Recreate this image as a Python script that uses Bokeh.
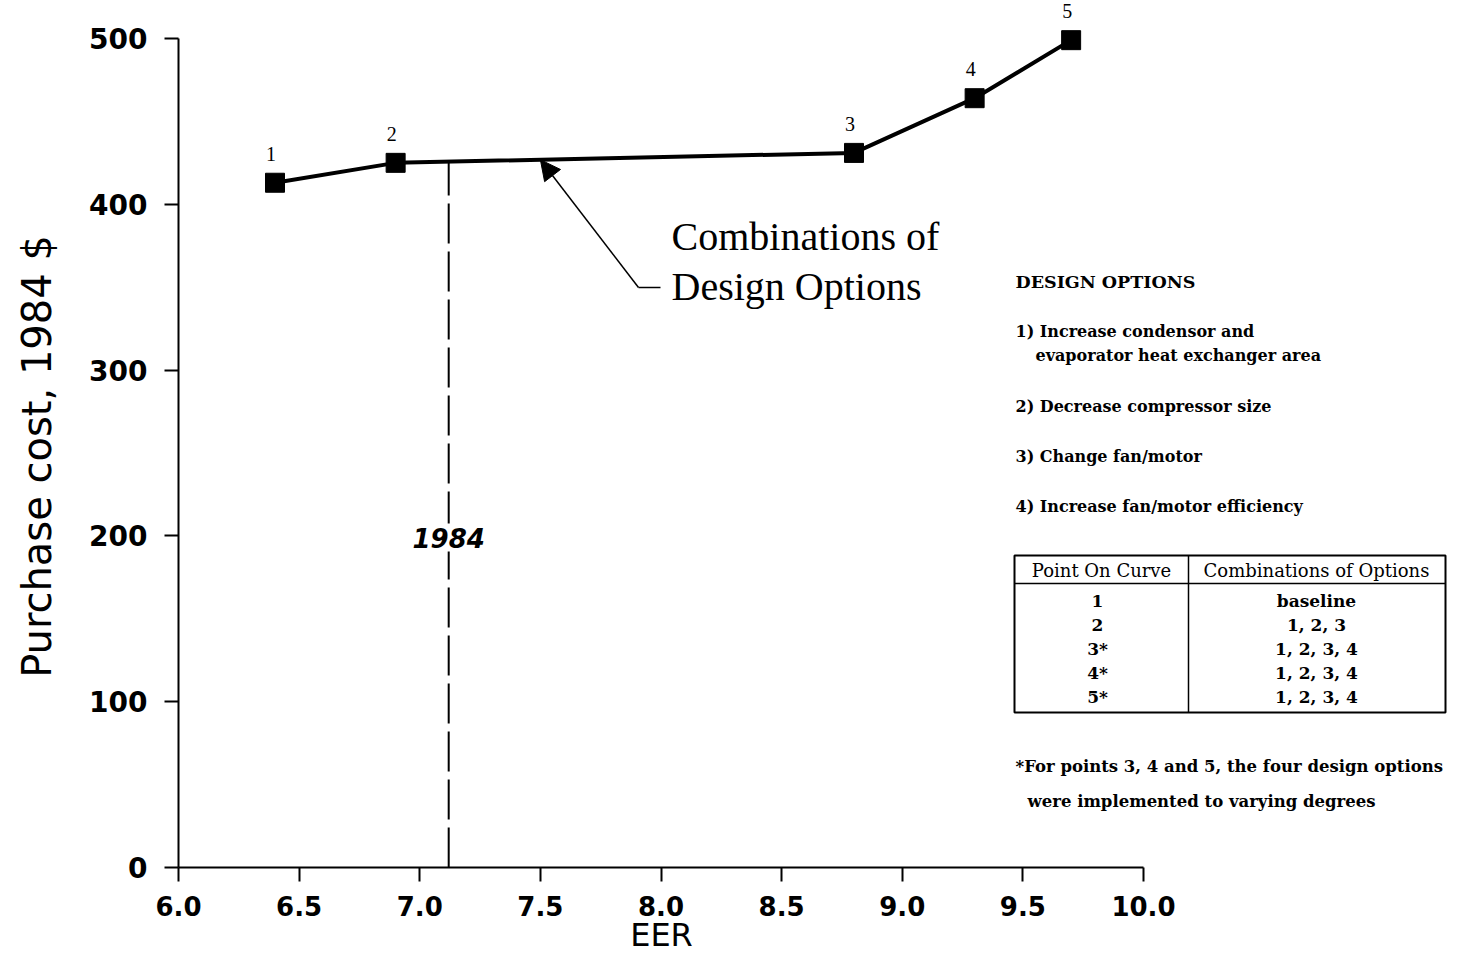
import math
from bokeh.plotting import figure
from bokeh.models import Range1d, FixedTicker, NumeralTickFormatter, Label, Arrow, NormalHead
from bokeh.core.properties import value
from bokeh.embed import file_html
from bokeh.resources import INLINE

# ---- data ----
eer = [6.4, 6.9, 8.8, 9.3, 9.7]
cost = [413, 425, 431, 464, 499]
point_labels = ["1", "2", "3", "4", "5"]
x_ticks = [6.0, 6.5, 7.0, 7.5, 8.0, 8.5, 9.0, 9.5, 10.0]
y_ticks = [0, 100, 200, 300, 400, 500]
year_eer = 7.12
year_label = "1984"
x_title = "EER"
y_title = "Purchase cost, 1984 $"

options_title = "DESIGN OPTIONS"
options_lines = ["1) Increase condensor and", "evaporator heat exchanger area",
                 "2) Decrease compressor size", "3) Change fan/motor",
                 "4) Increase fan/motor efficiency"]
table_header = ["Point On Curve", "Combinations of Options"]
table_points = ["1", "2", "3*", "4*", "5*"]
table_combos = ["baseline", "1, 2, 3", "1, 2, 3, 4", "1, 2, 3, 4", "1, 2, 3, 4"]
footnote = ["*For points 3, 4 and 5, the four design options",
            "were implemented to varying degrees"]
callout = ["Combinations of", "Design Options"]

# ---- layout helpers (canvas pixel -> data) ----
W, H = 1458, 955
XS = 241.25   # px per EER unit
YS = 1.658    # px per $
def X(px):
    return 6.0 + (px - 178) / XS
def Y(py):
    return (867 - py) / YS

p = figure(width=W, height=H, output_backend="svg", toolbar_location=None,
           x_range=Range1d(X(0), X(W)), y_range=Range1d(Y(H), Y(0)),
           min_border_left=0, min_border_right=0, min_border_top=0, min_border_bottom=0)
p.outline_line_color = None
p.grid.visible = False
p.background_fill_color = "white"

for ax in (p.xaxis[0], p.yaxis[0]):
    ax.axis_line_width = 2
    ax.axis_line_color = "black"
    ax.major_tick_line_width = 2
    ax.major_tick_line_color = "black"
    ax.major_tick_in = 0
    ax.major_tick_out = 14
    ax.minor_tick_line_color = None
    ax.major_label_text_font = "DejaVu Sans"
    ax.major_label_text_font_style = "bold"
    ax.major_label_text_color = "black"

p.xaxis[0].major_label_text_font_size = "26px"
p.yaxis[0].major_label_text_font_size = "28px"
p.xaxis[0].fixed_location = 0
p.yaxis[0].fixed_location = 6.0
p.xaxis[0].bounds = (6.0, 10.0)
p.yaxis[0].bounds = (0, 500)
p.xaxis[0].ticker = FixedTicker(ticks=x_ticks)
p.yaxis[0].ticker = FixedTicker(ticks=y_ticks)
p.xaxis[0].formatter = NumeralTickFormatter(format="0.0")
p.xaxis[0].major_label_standoff = 14
p.yaxis[0].major_label_standoff = 17

# axis titles
p.text([X(661)], [Y(934)], text=[x_title], text_align="center", text_baseline="middle",
       text_font=value("DejaVu Sans"), text_font_size="32px", text_color="black")
p.text([X(36)], [Y(456)], text=[y_title], angle=math.pi / 2, text_align="center",
       text_baseline="middle", text_font=value("DejaVu Sans"), text_font_size="40px",
       text_color="black")

# 1984 dashed line
p.segment(x0=[year_eer], y0=[0], x1=[year_eer],
          y1=[cost[1] + (cost[2] - cost[1]) * (year_eer - eer[1]) / (eer[2] - eer[1])],
          line_color="black", line_width=2, line_dash="40 8")
p.add_layout(Label(x=year_eer, y=Y(537), text=year_label, text_align="center",
                   text_baseline="middle", text_font="DejaVu Sans", text_font_style="bold italic",
                   text_font_size="26px", text_color="black",
                   background_fill_color="white", padding=4))

# curve
p.line(eer, cost, line_color="black", line_width=4)
p.scatter(eer, cost, marker="square", size=19, fill_color="black", line_color="black")
p.text(eer, cost, text=point_labels, x_offset=-4, y_offset=-22, text_align="center",
       text_baseline="bottom", text_font=value("Liberation Serif"), text_font_size="20px",
       text_color="black")

# callout with arrow
p.segment(x0=[X(638)], y0=[Y(287)], x1=[X(660)], y1=[Y(287)], line_color="black", line_width=1.5)
p.add_layout(Arrow(end=NormalHead(size=20, fill_color="black", line_color="black"),
                   x_start=X(638), y_start=Y(287), x_end=7.5,
                   y_end=cost[1] + (cost[2] - cost[1]) * (7.5 - eer[1]) / (eer[2] - eer[1]),
                   line_color="black", line_width=1.5))
p.text([X(671)] * 2, [Y(236), Y(286)], text=callout, text_align="left", text_baseline="middle",
       text_font=value("Liberation Serif"), text_font_size="40px", text_color="black")

# design options
serif = value("DejaVu Serif")
p.text([X(1015)], [Y(281)], text=[options_title], text_align="left", text_baseline="middle",
       text_font=serif, text_font_style="bold", text_font_size="17.5px", text_color="black")
opt_px = [(1015, 331), (1035, 355), (1015, 406), (1015, 456), (1015, 506)]
p.text([X(a) for a, b in opt_px], [Y(b) for a, b in opt_px], text=options_lines,
       text_align="left", text_baseline="middle", text_font=serif, text_font_style="bold",
       text_font_size="16px", text_color="black")

# table
p.quad(left=[X(1014)], right=[X(1445)], top=[Y(555)], bottom=[Y(712)],
       fill_color=None, line_color="black", line_width=2)
p.segment(x0=[X(1014), X(1188)], y0=[Y(583), Y(555)], x1=[X(1445), X(1188)], y1=[Y(583), Y(712)],
          line_color="black", line_width=1.5)
p.text([X(1101), X(1316)], [Y(570)] * 2, text=table_header, text_align="center",
       text_baseline="middle", text_font=serif, text_font_size="18px", text_color="black")
row_y = [Y(600 + 24.2 * i) for i in range(len(table_points))]
p.text([X(1097)] * len(table_points), row_y, text=table_points, text_align="center",
       text_baseline="middle", text_font=serif, text_font_style="bold", text_font_size="17px",
       text_color="black")
p.text([X(1316)] * len(table_combos), row_y, text=table_combos, text_align="center",
       text_baseline="middle", text_font=serif, text_font_style="bold", text_font_size="17px",
       text_color="black")

# footnote
p.text([X(1015), X(1027)], [Y(766), Y(801)], text=footnote, text_align="left",
       text_baseline="middle", text_font=serif, text_font_style="bold", text_font_size="16.5px",
       text_color="black")

open("out.html", "w").write(file_html(p, INLINE))
